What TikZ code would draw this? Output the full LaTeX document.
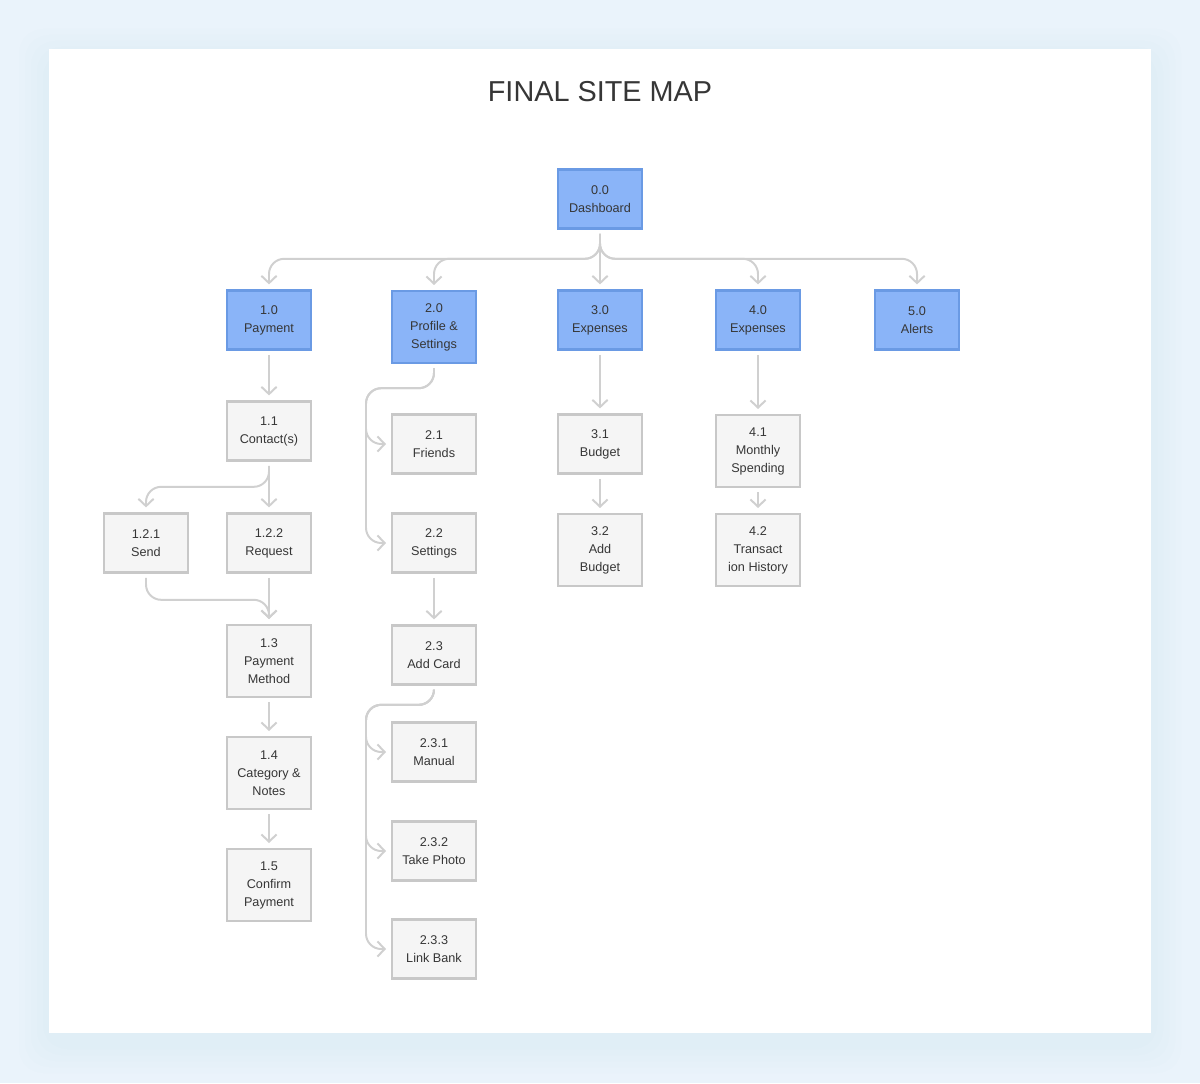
\documentclass[tikz,border=0pt]{standalone}
\usepackage{fontspec}
\setmainfont{Liberation Sans}
\usetikzlibrary{arrows.meta}

\definecolor{pagebg}{HTML}{EAF3FB}
\definecolor{shadowc}{HTML}{A9C2DA}
\definecolor{topfill}{HTML}{8AB4F8}
\definecolor{topline}{HTML}{6A9AE4}
\definecolor{subfill}{HTML}{F5F5F5}
\definecolor{subline}{HTML}{C8C8C8}
\definecolor{linkgray}{HTML}{D0D0D0}
\definecolor{txt}{HTML}{363636}

\tikzset{
	topbox/.style={draw=topline, fill=topfill, line width=1.7pt,
		minimum width=2.1cm, minimum height=1.48cm, inner sep=0pt,
		align=center, text=txt, font=\fontsize{9}{12.8}\selectfont},
	subbox/.style={topbox, draw=subline, fill=subfill},
	tall/.style={minimum height=1.8cm},
	link/.style={draw=linkgray, line width=1.4pt, rounded corners=0.38cm,
		-{Straight Barb[length=0.18cm, width=0.38cm]},
		shorten <=0.1cm, shorten >=0.12cm},
}

\begin{document}
\begin{tikzpicture}[x=0.025cm, y=-0.025cm]
	% page and card
	\fill[pagebg] (0,0) rectangle (1200,1083);
	\useasboundingbox (0,0) rectangle (1200,1083);
	\foreach \d in {6,12,18,24,30}
		\fill[shadowc, opacity=0.018, rounded corners=0.6cm]
			(49-\d,49-\d+10) rectangle (1151+\d,1033+\d+10);
	\fill[white] (49,49) rectangle (1151,1033);

	\node[text=txt, font=\fontsize{20.5}{24}\selectfont] (title) at (600,92)
		{FINAL SITE MAP};

	% level 0 and 1
	\node[topbox] (dash) at (600,199) {0.0\\Dashboard};
	\node[topbox] (pay)  at (269,320) {1.0\\Payment};
	\node[topbox, tall] (prof) at (434,327) {2.0\\Profile \&\\Settings};
	\node[topbox] (expa) at (600,320) {3.0\\Expenses};
	\node[topbox] (expb) at (758,320) {4.0\\Expenses};
	\node[topbox] (alert) at (917,320) {5.0\\Alerts};

	% payment branch
	\node[subbox] (cont) at (269,431) {1.1\\Contact(s)};
	\node[subbox] (send) at (146,543) {1.2.1\\Send};
	\node[subbox] (req)  at (269,543) {1.2.2\\Request};
	\node[subbox, tall] (meth) at (269,661) {1.3\\Payment\\Method};
	\node[subbox, tall] (note) at (269,773) {1.4\\Category \&\\Notes};
	\node[subbox, tall] (conf) at (269,885) {1.5\\Confirm\\Payment};

	% profile branch
	\node[subbox] (fri)  at (434,444) {2.1\\Friends};
	\node[subbox] (sett) at (434,543) {2.2\\Settings};
	\node[subbox] (card) at (434,655) {2.3\\Add Card};
	\node[subbox] (man)  at (434,752) {2.3.1\\Manual};
	\node[subbox] (photo) at (434,851) {2.3.2\\Take Photo};
	\node[subbox] (bank) at (434,949) {2.3.3\\Link Bank};

	% expenses branches
	\node[subbox] (budg) at (600,444) {3.1\\Budget};
	\node[subbox, tall] (addb) at (600,550) {3.2\\Add\\Budget};
	\node[subbox, tall] (month) at (758,451) {4.1\\Monthly\\Spending};
	\node[subbox, tall] (hist) at (758,550) {4.2\\Transact\\ion History};

	\coordinate (railp) at (366,0);

	% connectors
	\draw[link] (dash.south) -- (expa.north);
	\draw[link] (dash.south) -- ++(0,29) -| (pay.north);
	\draw[link] (dash.south) -- ++(0,29) -| (prof.north);
	\draw[link] (dash.south) -- ++(0,29) -| (expb.north);
	\draw[link] (dash.south) -- ++(0,29) -| (alert.north);

	\draw[link] (pay.south) -- (cont.north);
	\draw[link] (cont.south) -- (req.north);
	\draw[link] (cont.south) -- ++(0,25) -| (send.north);
	\draw[link] (req.south) -- (meth.north);
	\draw[link] (send.south) -- ++(0,26) -| (meth.north);
	\draw[link] (meth.south) -- (note.north);
	\draw[link] (note.south) -- (conf.north);

	\draw[link] (prof.south) -- ++(0,24) -| (railp |- fri.west) -- (fri.west);
	\draw[link] (prof.south) -- ++(0,24) -| (railp |- sett.west) -- (sett.west);
	\draw[link] (sett.south) -- (card.north);
	\draw[link] (card.south) -- ++(0,19) -| (railp |- man.west) -- (man.west);
	\draw[link] (card.south) -- ++(0,19) -| (railp |- photo.west) -- (photo.west);
	\draw[link] (card.south) -- ++(0,19) -| (railp |- bank.west) -- (bank.west);

	\draw[link] (expa.south) -- (budg.north);
	\draw[link] (budg.south) -- (addb.north);
	\draw[link] (expb.south) -- (month.north);
	\draw[link] (month.south) -- (hist.north);
\end{tikzpicture}
\end{document}
